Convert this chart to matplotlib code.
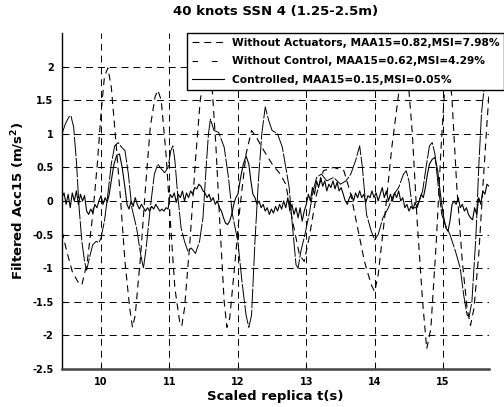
import numpy as np
import matplotlib
matplotlib.use("Agg")
import matplotlib.pyplot as plt
from matplotlib.lines import Line2D

plt.rcParams['font.family'] = ['DejaVu Sans']
plt.rcParams['font.weight'] = 'bold'
plt.rcParams['mathtext.default'] = 'bf'
plt.rcParams['lines.scale_dashes'] = False

# ---- Data ----

# Without Actuators (big dashed curve)
t_act = [9.43, 9.50, 9.58, 9.66, 9.72, 9.80, 9.88, 9.95, 10.00, 10.05, 10.10, 10.15, 10.20,
         10.28, 10.35, 10.42, 10.46, 10.50, 10.58, 10.65, 10.72, 10.79, 10.83, 10.88, 10.95,
         11.02, 11.08, 11.15, 11.18, 11.22, 11.30, 11.38, 11.45, 11.52, 11.58, 11.63, 11.68,
         11.74, 11.80, 11.84, 11.88, 11.95, 12.03, 12.12, 12.20, 12.27, 12.35, 12.50, 12.62,
         12.70, 12.80, 12.90, 12.97, 13.05, 13.15, 13.25, 13.40, 13.55, 13.65, 13.75, 13.85,
         13.95, 14.00, 14.05, 14.15, 14.25, 14.35, 14.42, 14.48, 14.55, 14.62, 14.70, 14.76,
         14.82, 14.90, 14.97, 15.03, 15.08, 15.13, 15.20, 15.28, 15.35, 15.40, 15.45, 15.52,
         15.58, 15.63, 15.67]
acc_act = [-0.45, -0.75, -1.05, -1.20, -1.25, -0.90, -0.20, 0.60, 1.30, 1.85, 1.98, 1.70, 1.10,
           0.10, -0.90, -1.60, -1.88, -1.70, -0.80, 0.20, 1.10, 1.55, 1.65, 1.50, 0.70,
           -0.40, -1.30, -1.80, -1.86, -1.60, -0.60, 0.60, 1.50, 1.95, 2.00, 1.60, 0.80,
           -0.40, -1.50, -1.88, -1.75, -1.00, -0.10, 0.70, 1.05, 0.95, 0.80, 0.55, 0.40,
           0.25, -0.30, -0.80, -0.90, -0.50, 0.10, 0.45, 0.50, 0.45, 0.10, -0.40, -0.90,
           -1.25, -1.35, -1.10, -0.20, 0.80, 1.60, 2.00, 1.90, 1.00, -0.30, -1.50, -2.20,
           -1.90, -0.60, 0.80, 1.80, 2.10, 1.50, 0.20, -0.90, -1.60, -1.85, -1.60, -0.80,
           0.20, 1.00, 1.60]

# Without Control (medium curve)
t_unc = [9.43, 9.48, 9.53, 9.56, 9.60, 9.64, 9.68, 9.72, 9.76, 9.79, 9.83, 9.88, 9.93, 9.97,
         10.00, 10.05, 10.10, 10.15, 10.20, 10.25, 10.30, 10.35, 10.40, 10.45, 10.52, 10.58,
         10.62, 10.66, 10.72, 10.78, 10.83, 10.88, 10.93, 10.98, 11.02, 11.05, 11.08, 11.12,
         11.17, 11.22, 11.27, 11.32, 11.38, 11.44, 11.49, 11.53, 11.57, 11.60, 11.65, 11.72,
         11.80, 11.86, 11.92, 12.00, 12.06, 12.12, 12.16, 12.20, 12.25, 12.30, 12.35, 12.40,
         12.45, 12.50, 12.58, 12.65, 12.70, 12.75, 12.80, 12.85, 12.88, 12.92, 12.98, 13.05,
         13.10, 13.15, 13.22, 13.30, 13.40, 13.50, 13.58, 13.65, 13.72, 13.78, 13.82, 13.88,
         13.95, 14.00, 14.05, 14.12, 14.20, 14.28, 14.35, 14.42, 14.46, 14.50, 14.55, 14.60,
         14.65, 14.70, 14.75, 14.80, 14.84, 14.88, 14.93, 14.98, 15.03, 15.10, 15.18, 15.25,
         15.30, 15.35, 15.38, 15.42, 15.48, 15.52, 15.56, 15.60, 15.64, 15.67]
acc_unc = [1.00, 1.15, 1.25, 1.27, 1.10, 0.60, -0.10, -0.60, -0.90, -1.03, -0.85, -0.65, -0.60, -0.62,
           -0.55, -0.30, 0.10, 0.55, 0.82, 0.87, 0.80, 0.75, 0.40, -0.10, -0.40, -0.80,
           -1.00, -0.70, -0.10, 0.40, 0.55, 0.48, 0.42, 0.50, 0.75, 0.82, 0.60, 0.10,
           -0.40, -0.60, -0.75, -0.70, -0.78, -0.60, -0.25, 0.40, 1.00, 1.22, 1.05, 1.02,
           0.80, 0.37, -0.20, -0.60, -1.20, -1.70, -1.88, -1.70, -0.60, 0.30, 1.00, 1.40,
           1.20, 1.05, 1.00, 0.80, 0.50, 0.20, -0.40, -0.95, -1.00, -0.75, -0.50, -0.15,
           0.15, 0.35, 0.40, 0.30, 0.35, 0.25, 0.30, 0.40, 0.60, 0.82, 0.50, -0.20,
           -0.45, -0.58, -0.50, -0.25, -0.10, 0.10, 0.20, 0.40, 0.45, 0.30, -0.10, -0.10,
           0.00, 0.15, 0.50, 0.82, 0.87, 0.70, 0.20, -0.20, -0.35, -0.50, -0.75, -1.00,
           -1.40, -1.70, -1.72, -1.50, -0.50, 0.50, 1.30, 1.70, 1.70, 1.75]

# Controlled (small, noisy curve)
t_ctl = [9.43, 9.46, 9.49, 9.52, 9.55, 9.58, 9.61, 9.64, 9.67, 9.70, 9.73, 9.76, 9.79, 9.82,
         9.85, 9.88, 9.91, 9.94, 9.97, 10.00, 10.03, 10.06, 10.09, 10.12, 10.15, 10.19, 10.23,
         10.27, 10.31, 10.35, 10.38, 10.41, 10.44, 10.47, 10.50, 10.53, 10.56, 10.59, 10.62,
         10.65, 10.68, 10.71, 10.74, 10.77, 10.80, 10.83, 10.86, 10.89, 10.92, 10.95, 10.98,
         11.01, 11.04, 11.07, 11.10, 11.13, 11.16, 11.19, 11.22, 11.25, 11.28, 11.31, 11.34,
         11.37, 11.40, 11.43, 11.46, 11.49, 11.52, 11.55, 11.58, 11.61, 11.64, 11.67, 11.70,
         11.73, 11.76, 11.79, 11.82, 11.85, 11.88, 11.91, 11.94, 11.97, 12.00, 12.04, 12.08,
         12.12, 12.16, 12.19, 12.22, 12.25, 12.28, 12.31, 12.34, 12.37, 12.40, 12.43, 12.46,
         12.49, 12.52, 12.55, 12.58, 12.61, 12.64, 12.67, 12.70, 12.73, 12.76, 12.79, 12.82,
         12.85, 12.88, 12.91, 12.94, 12.97, 13.00, 13.03, 13.06, 13.09, 13.12, 13.15, 13.18,
         13.21, 13.24, 13.27, 13.30, 13.33, 13.36, 13.39, 13.42, 13.45, 13.48, 13.51, 13.54,
         13.57, 13.60, 13.63, 13.66, 13.69, 13.72, 13.75, 13.78, 13.81, 13.84, 13.87, 13.90,
         13.93, 13.96, 13.99, 14.02, 14.05, 14.08, 14.11, 14.14, 14.17, 14.20, 14.23, 14.26,
         14.29, 14.32, 14.35, 14.38, 14.41, 14.44, 14.47, 14.50, 14.53, 14.56, 14.59, 14.62,
         14.65, 14.68, 14.71, 14.74, 14.77, 14.80, 14.84, 14.88, 14.92, 14.96, 15.00, 15.04,
         15.07, 15.10, 15.13, 15.16, 15.19, 15.22, 15.25, 15.28, 15.31, 15.34, 15.37, 15.40,
         15.43, 15.46, 15.49, 15.52, 15.55, 15.58, 15.61, 15.64, 15.67]
acc_ctl = [0.05, 0.12, -0.05, 0.10, -0.10, 0.12, 0.00, 0.15, -0.05, 0.10, 0.00, 0.08, -0.15, -0.20,
           -0.12, -0.18, -0.05, -0.10, 0.00, 0.08, -0.05, 0.05, -0.02, 0.10, 0.30, 0.55, 0.68,
           0.70, 0.50, 0.20, -0.05, -0.12, 0.00, -0.08, 0.05, -0.05, -0.12, -0.05, -0.10,
           -0.15, -0.10, -0.15, -0.08, -0.12, -0.05, -0.10, -0.15, -0.12, -0.15, -0.10, -0.12,
           0.10, 0.05, 0.12, -0.02, 0.10, 0.05, 0.15, 0.00, 0.12, 0.05, 0.15, 0.10,
           0.20, 0.18, 0.25, 0.22, 0.15, 0.12, 0.05, 0.10, 0.00, 0.05, -0.05, 0.00,
           -0.10, -0.15, -0.25, -0.33, -0.35, -0.30, -0.20, -0.05, 0.05, 0.10, 0.35, 0.55,
           0.67, 0.55, 0.30, 0.10, 0.05, -0.05, 0.00, -0.10, -0.05, -0.15, -0.10, -0.20,
           -0.12, -0.18, -0.08, -0.15, -0.05, -0.12, 0.00, -0.10, 0.05, -0.15, -0.05, -0.20,
           -0.10, -0.25, -0.10, -0.30, -0.15, -0.05, 0.10, 0.00, 0.20, 0.10, 0.30, 0.20,
           0.35, 0.22, 0.30, 0.15, 0.25, 0.20, 0.30, 0.18, 0.28, 0.15, 0.20, 0.10,
           0.00, -0.05, 0.05, 0.10, 0.00, 0.12, 0.05, 0.15, 0.05, 0.10, -0.02, 0.08,
           0.05, 0.15, 0.05, 0.12, 0.00, 0.10, 0.20, 0.05, 0.15, 0.00, 0.10, 0.00,
           0.12, 0.05, 0.15, 0.00, 0.05, -0.10, -0.05, -0.15, -0.08, -0.12, -0.02, -0.10,
           0.00, 0.10, 0.05, 0.20, 0.40, 0.55, 0.62, 0.65, 0.45, 0.10, -0.20, -0.40,
           -0.45, -0.30, -0.05, 0.00, -0.05, 0.05, -0.10, -0.05, -0.15, -0.10, -0.20, -0.25,
           -0.28, -0.10, -0.20, 0.05, -0.05, 0.15, 0.10, 0.25, 0.22]

labels = ['Without Actuators, MAA15=0.82,MSI=7.98%',
          'Without Control, MAA15=0.62,MSI=4.29%',
          'Controlled, MAA15=0.15,MSI=0.05%']
x_ticks = [10, 11, 12, 13, 14, 15]
y_ticks = [-2.5, -2, -1.5, -1, -0.5, 0, 0.5, 1, 1.5, 2]


# ---- Figure ----
fig = plt.figure(figsize=(5.04, 4.07), dpi=100)
ax = fig.add_axes([62 / 504, 1 - 369 / 407, 427 / 504, 336 / 407])

lw = 0.8
ax.plot(t_act, acc_act, color='black', lw=lw, dashes=(5, 3.5))
ax.plot(t_unc, acc_unc, color='black', lw=0.7, dashes=(14, 1.2))
ax.plot(t_ctl, acc_ctl, color='black', lw=lw)

ax.set_xlim(9.43, 15.67)
ax.set_ylim(-2.5, 2.5)
ax.set_xticks(x_ticks)
ax.set_yticks(y_ticks)
ax.set_yticklabels(['-2.5', '-2', '-1.5', '-1', '-0.5', '0', '0.5', '1', '1.5', '2'])

ax.grid(True, color='black', lw=0.7, dashes=(5, 3.5))
ax.set_axisbelow(True)

for s in ['top', 'right']:
    ax.spines[s].set_visible(False)
ax.spines['left'].set_linewidth(1.0)
ax.spines['bottom'].set_linewidth(1.8)
ax.spines['bottom'].set_color('#444444')
ax.tick_params(direction='in', length=3, width=0.8, labelsize=7, pad=6)
for lab in ax.get_xticklabels() + ax.get_yticklabels():
    lab.set_fontweight('bold')

ax.set_title('40 knots SSN 4 (1.25-2.5m)', fontsize=9.5, fontweight='bold', pad=13)
ax.set_xlabel('Scaled replica t(s)', fontsize=9.5, fontweight='bold', labelpad=2)
ax.set_ylabel('Filtered Acc15 (m/s$^2$)', fontsize=9.5, fontweight='bold', labelpad=4)

# legend handles styled like the reference key
handles = [Line2D([], [], color='black', lw=lw, dashes=(5, 3.5)),
           Line2D([], [], color='black', lw=lw, dashes=(4, 10)),
           Line2D([], [], color='black', lw=lw)]
leg = ax.legend(handles, labels, loc='upper right', bbox_to_anchor=(1.0, 1 - 33 / 407),
                bbox_transform=fig.transFigure, borderaxespad=0, fancybox=False,
                edgecolor='black', framealpha=1, fontsize=7.7, handlelength=3.0,
                handletextpad=0.7, labelspacing=0.8, borderpad=0.45)
leg.get_frame().set_linewidth(1.0)
for txt in leg.get_texts():
    txt.set_fontweight('bold')

fig.savefig('out.png', dpi=100)
